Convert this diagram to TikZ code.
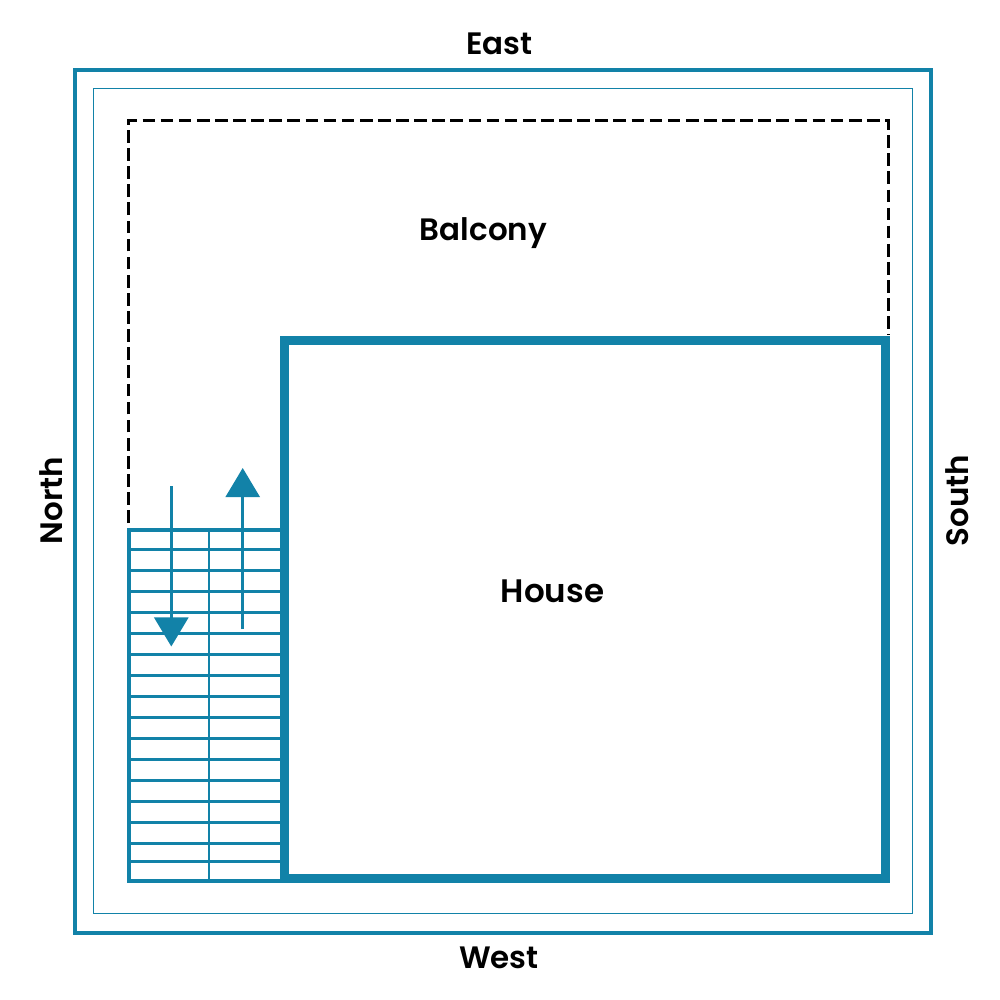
\documentclass[tikz,border=0pt]{standalone}
\usepackage{fontspec}
\setmainfont{Poppins SemiBold}
\usepackage{tikz}
\usetikzlibrary{arrows.meta}
\definecolor{wallblue}{HTML}{1282A8}
\tikzset{>={Triangle[length=8.3pt,width=9.7pt]}}
\tikzset{
    side/.style={font=\fontsize{8.8pt}{10pt}\selectfont},
    tread/.style={color=wallblue, line width=0.75pt},
    stairarrow/.style={->, color=wallblue, line width=0.85pt}
}

\begin{document}
\begin{tikzpicture}[x=0.01cm, y=-0.01cm]
        \useasboundingbox (0,0) rectangle (1000,1000);
        % walls
        \draw [color=wallblue, line width=1.14pt] (75,70) rectangle (931,933);
        \draw [color=wallblue, line width=0.25pt] (93.7,88.5) rectangle (912,913);
        \draw [black, line width=0.85pt, dash pattern=on 3.6pt off 1.55pt] (128.5,523)--(128.5,120.5)--(888.5,120.5)--(888.5,335);
        % stairs
        \foreach \y in {549.5,570.5,...,843.5,861.5}
            \draw [tread] (129,\y)--(284,\y);
        \draw [tread, line width=0.6pt] (209,530)--(209,881);
        \draw [color=wallblue, line width=1.14pt] (284,530)--(129,530)--(129,881)--(284,881);
        \coordinate (DownStart) at (171.3,486);
        \coordinate (DownEnd) at (171.3,646.5);
        \coordinate (UpStart) at (242.7,629);
        \coordinate (UpEnd) at (242.7,468);
        \draw [stairarrow] (DownStart)--(DownEnd);
        \draw [stairarrow] (UpStart)--(UpEnd);
        % house
        \draw [color=wallblue, line width=2.56pt] (284.5,340.5) rectangle (885.5,878.5);
        % labels
        \node [side] (East) at (499.5,44) {East};
        \node [side] (West) at (499,958) {West};
        \node [side, rotate=90] (North) at (51,500.5) {North};
        \node [side, rotate=90] (South) at (957,500.5) {South};
        \node [side] (Balcony) at (483.5,233) {Balcony};
        \node [side, font=\fontsize{9.25pt}{10pt}\selectfont] (House) at (552.5,591) {House};
    \end{tikzpicture}
\end{document}
